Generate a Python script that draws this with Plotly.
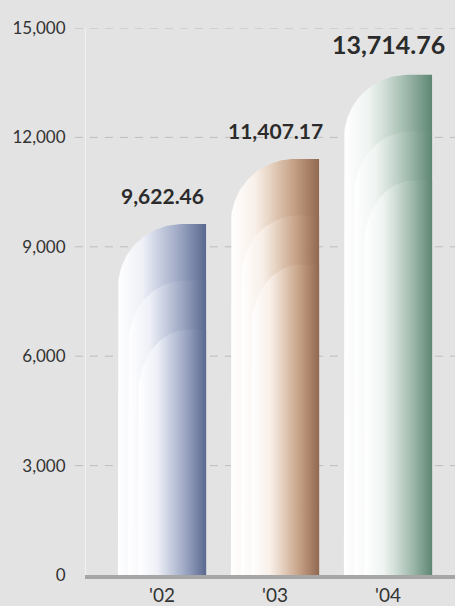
import numpy as np
import plotly.graph_objects as go

# Annual figures
years = ["'02", "'03", "'04"]
values = [9622.46, 11407.17, 13714.76]
value_labels = ["9,622.46", "11,407.17", "13,714.76"]
label_sizes = [21, 21, 25]

# Horizontal gradients (near-white left part -> saturated right edge)
palettes = [
    [[0, "#ffffff"], [0.28, "#eef0f7"], [0.45, "#ccd2e3"], [0.72, "#97a2bf"], [1, "#5a688f"]],
    [[0, "#ffffff"], [0.28, "#f8efe8"], [0.45, "#e6d2c1"], [0.72, "#c49f83"], [1, "#916850"]],
    [[0, "#ffffff"], [0.28, "#eff4f1"], [0.45, "#d2dfd8"], [0.72, "#9cb7aa"], [1, "#5e8673"]],
]

y_ticks = [0, 3000, 6000, 9000, 12000, 15000]
y_ticktext = ["0", "3,000", "6,000", "9,000", "12,000", "15,000"]

BG = "#e3e3e3"
FONT = "Lato"

half_w = 0.39          # half bar width in x units
rx_frac = 0.72         # horizontal radius of the rounded top-left corner
ry = 1750              # vertical radius of the corner (value units)
layer_dx = [0.0, 0.09, 0.18]
layer_dy = [0.0, 1550, 2900]


def layer_path(xc, top, dx):
    xl = xc - half_w + dx
    xr = xc + half_w
    rx = rx_frac * (xr - xl)
    t = np.linspace(np.pi, np.pi / 2, 40)
    ax = xl + rx + rx * np.cos(t)
    ay = top - ry + ry * np.sin(t)
    xs = [xl] + list(ax) + [xr, xr, xl]
    ys = [0] + list(ay) + [top, 0, 0]
    return xs, ys


fig = go.Figure()

for i, (v, pal) in enumerate(zip(values, palettes)):
    for dx, dy in zip(layer_dx, layer_dy):
        xs, ys = layer_path(i, v - dy, dx)
        fig.add_trace(go.Scatter(
            x=xs, y=ys, mode="lines", fill="toself",
            line=dict(width=0),
            fillgradient=dict(type="horizontal", colorscale=pal),
            hoverinfo="skip", showlegend=False,
        ))

# value labels above each bar
for i, (v, txt, fs) in enumerate(zip(values, value_labels, label_sizes)):
    fig.add_annotation(
        x=i, y=v, text=f"<b>{txt}</b>", showarrow=False,
        yanchor="bottom", yshift=14,
        font=dict(family=FONT, size=fs, color="#2b2b2b"),
    )

# dashed grid lines
for t in y_ticks[1:]:
    fig.add_shape(
        type="line", xref="paper", yref="y",
        x0=-0.03, x1=1, y0=t, y1=t, layer="below",
        line=dict(color="#bdbdbd", width=1, dash="8px,7px"),
    )

fig.update_layout(
    width=455, height=606,
    margin=dict(l=86, r=0, t=28, b=31),
    paper_bgcolor=BG, plot_bgcolor=BG,
    showlegend=False,
    xaxis=dict(
        range=[-0.6726, 2.5929], tickvals=[0, 1, 2], ticktext=years,
        showgrid=False, zeroline=False, automargin=False,
        showline=True, linecolor="#a6a6a6", linewidth=4,
        ticks="", ticklabelstandoff=0,
        tickfont=dict(family=FONT, size=19, color="#333333"),
        fixedrange=True,
    ),
    yaxis=dict(
        range=[0, 15000], tickvals=y_ticks, ticktext=y_ticktext,
        showgrid=False, zeroline=False, automargin=False,
        showline=True, linecolor="#f1f1f1", linewidth=1,
        ticks="outside", ticklen=16, tickcolor="rgba(0,0,0,0)",
        tickfont=dict(family=FONT, size=17, color="#333333"),
        fixedrange=True,
    ),
)

fig.write_html("out.html")
